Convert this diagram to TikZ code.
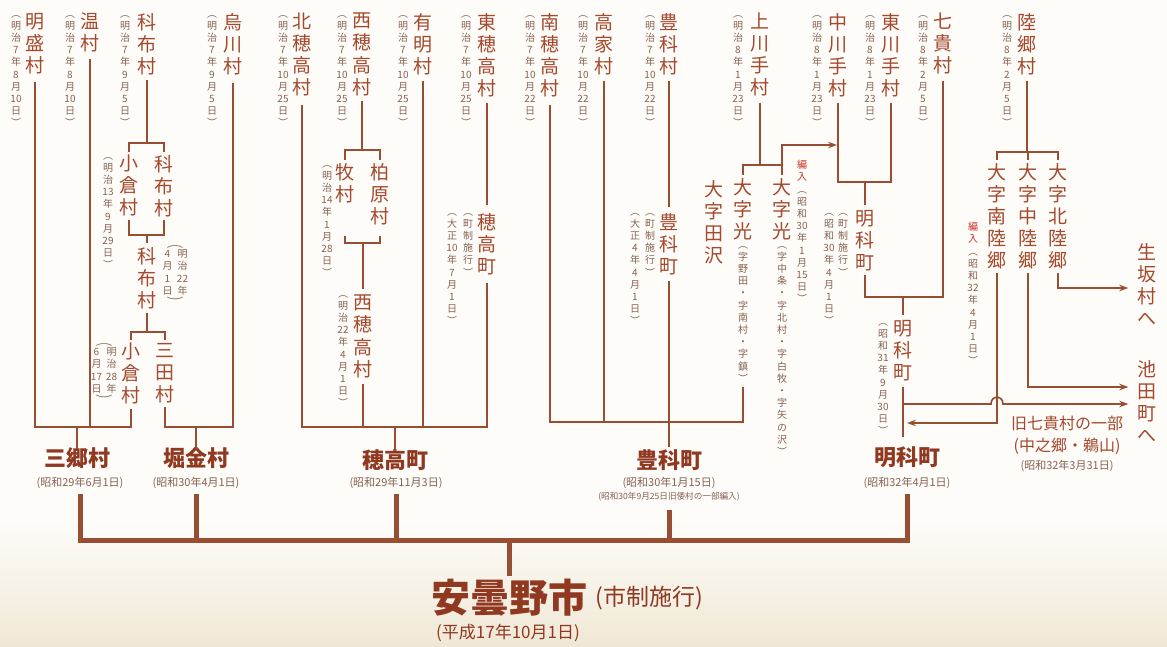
\documentclass[tikz,border=0pt]{standalone}
\usepackage{fontspec}
\setmainfont{Noto Sans CJK JP}
\usepackage{graphicx}
\usetikzlibrary{arrows.meta}
\definecolor{bgC}{RGB}{253,252,249}
\definecolor{beigeC}{RGB}{240,232,214}
\definecolor{nameC}{RGB}{165,72,44}
\definecolor{finC}{RGB}{145,56,32}
\definecolor{dateC}{RGB}{135,98,82}
\definecolor{lineC}{RGB}{152,78,50}
\definecolor{redC}{RGB}{205,50,40}
\ExplSyntaxOn
\NewDocumentCommand \vt { m m }
 {
  \vbox:n
   {
    \skip_set:Nn \baselineskip {#1}
    \dim_set:Nn \lineskiplimit {-100pt}
    \skip_set:Nn \lineskip {0pt}
    \tl_map_inline:nn {#2} { \hbox_to_wd:nn {1em} { \hss ##1 \hss } }
   }
 }
\ExplSyntaxOff
\newcommand\vn[1]{\vt{1.16em}{#1}}
\newcommand\vd[1]{\vt{1.22em}{︵#1︶}}
\newcommand\vdd[2]{\vbox{\offinterlineskip\hbox to 25pt{\hss\scalebox{1.7}[1]{︵}\hss}\kern2pt\hbox to 25pt{\vt{1.22em}{#2}\kern5pt\vt{1.22em}{#1}\hss}\kern2pt\hbox to 25pt{\hss\scalebox{1.7}[1]{︶}\hss}}}
\begin{document}
\begin{tikzpicture}[x=1pt,y=-1pt,
  nm/.style={inner sep=0pt, anchor=north, text=nameC, font=\fontsize{19}{22}\selectfont},
  dt/.style={inner sep=0pt, anchor=north, text=dateC, font=\fontsize{10}{12}\selectfont},
  fin/.style={inner sep=0pt, text=finC, font=\fontsize{22}{24}\selectfont\bfseries},
  fdt/.style={inner sep=0pt, text=dateC, font=\fontsize{11}{12}\selectfont},
  ln/.style={draw=lineC, line width=1.7pt},
  arr/.style={ln, -{Stealth[length=9pt,width=6.5pt]}},
  busln/.style={draw=lineC, line width=5pt}]
\fill[bgC] (0,0) rectangle (1167,646);
\shade[top color=bgC, bottom color=beigeC] (0,520) rectangle (1167,646);
\useasboundingbox (0,0) rectangle (1167,646);
% levels
\coordinate (h1) at (0,427);
\coordinate (h3) at (0,422);
\coordinate (b1) at (0,143);
\coordinate (b2) at (0,235);
\coordinate (b3) at (0,332);
\coordinate (b4) at (0,150);
\coordinate (b5) at (0,243);
\coordinate (b5t) at (0,236);
\coordinate (b6) at (0,165);
\coordinate (a1) at (0,145);
\coordinate (b7) at (0,182);
\coordinate (b8) at (0,297);
\coordinate (b9) at (0,152);
\coordinate (a2) at (0,288);
\coordinate (a3) at (0,387);
\coordinate (a4) at (0,423);
\coordinate (u1) at (0,404);
\coordinate (m437) at (0,437);
\coordinate (bus) at (0,540);
% ===== group 1 =====
\node[nm] (meisei) at (35,13) {\vn{明盛村}};
\node[dt] at (16,15) {\vd{明治7年8月{10}日}};
\node[nm] (nuku) at (90,13) {\vn{温村}};
\node[dt] at (70,15) {\vd{明治7年8月{10}日}};
\node[nm] (shina1) at (147,13) {\vn{科布村}};
\node[dt] at (125,15) {\vd{明治7年9月5日}};
\node[nm] (karasu) at (233,13) {\vn{烏川村}};
\node[dt] at (212,15) {\vd{明治7年9月5日}};
\node[nm] (ogura1) at (129,155) {\vn{小倉村}};
\node[dt] at (108,157) {\vd{明治{13}年9月{29}日}};
\node[nm] (shina2) at (164,155) {\vn{科布村}};
\node[nm] (shina3) at (147,247) {\vn{科布村}};
\node[dt] at (175,245) {\vdd{明治{22}年}{4月1日}};
\node[nm] (ogura2) at (131,343) {\vn{小倉村}};
\node[dt] at (104,343) {\vdd{明治{28}年}{6月{17}日}};
\node[nm] (mita) at (165,343) {\vn{三田村}};
\node[fin] (misato) at (77,458) {三郷村};
\node[fdt] (misatoD) at (80,483) {(昭和29年6月1日)};
\node[fin] (horigane) at (196,458) {堀金村};
\node[fdt] (horiganeD) at (196,483) {(昭和30年4月1日)};
\draw[ln] ([yshift=-8pt]meisei.south) -- (meisei.south |- h1) -- (ogura2.south |- h1) -- ([yshift=-4pt]ogura2.south);
\draw[ln] ([yshift=-6pt]nuku.south) -- (nuku.south |- h1);
\draw[ln] ([yshift=-2pt]misato.north) -- (misato.north |- h1);
\draw[ln] ([yshift=-5pt]shina1.south) -- (shina1.south |- b1);
\draw[ln] ([yshift=3pt]ogura1.north) -- (ogura1.north |- b1) -- (shina2.north |- b1) -- ([yshift=3pt]shina2.north);
\draw[ln] ([yshift=-3pt]ogura1.south) -- (ogura1.south |- b2) -- (shina2.south |- b2) -- ([yshift=-3pt]shina2.south);
\draw[ln] (shina3.north |- b2) -- ([yshift=4pt]shina3.north);
\draw[ln] ([yshift=-4pt]shina3.south) -- (shina3.south |- b3);
\draw[ln] ([yshift=3pt]ogura2.north) -- (ogura2.north |- b3) -- (mita.north |- b3) -- ([yshift=3pt]mita.north);
\draw[ln] ([yshift=-4pt]mita.south) -- (mita.south |- h1) -- (karasu.south |- h1) -- ([yshift=-8pt]karasu.south);
\draw[ln] ([yshift=-2pt]horigane.north) -- (horigane.north |- h1);
% ===== group 2 =====
\node[nm] (kitaho) at (302,13) {\vn{北穂高村}};
\node[dt] at (283,15) {\vd{明治7年{10}月{25}日}};
\node[nm] (nishiho1) at (362,13) {\vn{西穂高村}};
\node[dt] at (342,15) {\vd{明治7年{10}月{25}日}};
\node[nm] (ariake) at (423,13) {\vn{有明村}};
\node[dt] at (403,15) {\vd{明治7年{10}月{25}日}};
\node[nm] (higashiho) at (487,13) {\vn{東穂高村}};
\node[dt] at (466,15) {\vd{明治7年{10}月{25}日}};
\node[nm] (maki) at (345,163) {\vn{牧村}};
\node[dt] at (327,165) {\vd{明治{14}年1月{28}日}};
\node[nm] (kashiwa) at (380,163) {\vn{柏原村}};
\node[nm] (nishiho2) at (363,295) {\vn{西穂高村}};
\node[dt] at (343,295) {\vd{明治{22}年4月1日}};
\node[nm] (hotakaM) at (487,213) {\vn{穂高町}};
\node[dt] at (468,213) {\vd{町制施行}};
\node[dt] at (452,213) {\vd{大正{10}年7月1日}};
\node[fin] (hotaka) at (395,460) {穂高町};
\node[fdt] (hotakaD) at (396,483) {(昭和29年11月3日)};
\draw[ln] ([yshift=-8pt]kitaho.south) -- (kitaho.south |- h1) -- (hotakaM.south |- h1) -- ([yshift=-8pt]hotakaM.south);
\draw[ln] ([yshift=-6pt]ariake.south) -- (ariake.south |- h1);
\draw[ln] ([yshift=-6pt]nishiho2.south) -- (nishiho2.south |- h1);
\draw[ln] ([yshift=-2pt]hotaka.north) -- (hotaka.north |- h1);
\draw[ln] ([yshift=-6pt]higashiho.south) -- ([yshift=8pt]hotakaM.north);
\draw[ln] ([yshift=-5pt]nishiho1.south) -- (nishiho1.south |- b4);
\draw[ln] ([yshift=3pt]maki.north) -- (maki.north |- b4) -- (kashiwa.north |- b4) -- ([yshift=3pt]kashiwa.north);
\draw[ln] (maki.south |- b5t) -- (maki.south |- b5) -- (kashiwa.south |- b5) -- (kashiwa.south |- b5t);
\draw[ln] (nishiho2.north |- b5) -- ([yshift=6pt]nishiho2.north);
% ===== group 3 =====
\node[nm] (minamiho) at (550,13) {\vn{南穂高村}};
\node[dt] at (530,15) {\vd{明治7年{10}月{22}日}};
\node[nm] (takaie) at (604,13) {\vn{高家村}};
\node[dt] at (583,15) {\vd{明治7年{10}月{22}日}};
\node[nm] (toyoV) at (669,13) {\vn{豊科村}};
\node[dt] at (650,15) {\vd{明治7年{10}月{22}日}};
\node[nm] (kamikawa) at (760,13) {\vn{上川手村}};
\node[dt] at (738,15) {\vd{明治8年1月{23}日}};
\node[nm] (toyoM) at (669,213) {\vn{豊科町}};
\node[dt] at (650,213) {\vd{町制施行}};
\node[dt] at (635,213) {\vd{大正4年4月1日}};
\node[nm] (tazawa) at (714,180) {\vn{大字田沢}};
\node[nm] (hikariL) at (743,178) {\vn{大字光}};
\node[dt] (hikariLs) at (743,246) {\vd{字野田・字南村・字鎮}};
\node[nm] (hikariR) at (782,178) {\vn{大字光}};
\node[dt] (hikariRs) at (782,246) {\vd{字中条・字北村・字白牧・字矢の沢}};
\node[dt] at (802,160) {\vt{1.22em}{{\color{redC}編}{\color{redC}入}︵昭和{30}年1月{15}日︶}};
\node[fin] (toyoshina) at (669,460) {豊科町};
\node[fdt] (toyoshinaD) at (669,483) {(昭和30年1月15日)};
\node[fdt, font=\fontsize{8.6}{10}\selectfont] at (669,497) {(昭和30年9月25日旧倭村の一部編入)};
\draw[ln] ([yshift=-8pt]minamiho.south) -- (minamiho.south |- h3) -- (hikariLs.south |- h3) -- ([yshift=-5pt]hikariLs.south);
\draw[ln] ([yshift=-6pt]takaie.south) -- (takaie.south |- h3);
\draw[ln] ([yshift=-6pt]toyoV.south) -- ([yshift=6pt]toyoM.north);
\draw[ln] ([yshift=-6pt]toyoM.south) -- ([yshift=2pt]toyoshina.north);
\draw[ln] ([yshift=-6pt]kamikawa.south) -- (kamikawa.south |- b6);
\draw[ln] ([yshift=3pt]hikariL.north) -- (hikariL.north |- b6) -- (hikariR.north |- b6);
% ===== group 4 =====
\node[nm] (nakagawa) at (838,13) {\vn{中川手村}};
\node[dt] at (817,15) {\vd{明治8年1月{23}日}};
\node[nm] (higashikawa) at (891,13) {\vn{東川手村}};
\node[dt] at (870,15) {\vd{明治8年1月{23}日}};
\node[nm] (nanaki) at (943,13) {\vn{七貴村}};
\node[dt] at (923,15) {\vd{明治8年2月5日}};
\node[nm] (akaM1) at (865,210) {\vn{明科町}};
\node[dt] at (843,213) {\vd{町制施行}};
\node[dt] at (829,213) {\vd{昭和{30}年4月1日}};
\node[nm] (akaM2) at (903,320) {\vn{明科町}};
\node[dt] at (883,323) {\vd{昭和{31}年9月{30}日}};
\node[fin] (akashina) at (907,457) {明科町};
\node[fdt] (akashinaD) at (907,483) {(昭和32年4月1日)};
\draw[arr, shorten >=1pt] ([yshift=3pt]hikariR.north) -- (hikariR.north |- a1) -- (nakagawa.south |- a1);
\draw[ln] ([yshift=-6pt]nakagawa.south) -- (nakagawa.south |- b7) -- (higashikawa.south |- b7) -- ([yshift=-6pt]higashikawa.south);
\draw[ln] (akaM1.north |- b7) -- ([yshift=5pt]akaM1.north);
\draw[ln] ([yshift=-4pt]akaM1.south) -- (akaM1.south |- b8) -- (nanaki.south |- b8) -- ([yshift=-6pt]nanaki.south);
\draw[ln] (akaM2.north |- b8) -- ([yshift=5pt]akaM2.north);
\draw[ln] ([yshift=-6pt]akaM2.south) -- (akaM2.south |- m437);
% ===== group 5 =====
\node[nm] (rikugo) at (1027,13) {\vn{陸郷村}};
\node[dt] at (1007,15) {\vd{明治8年2月5日}};
\node[nm] (minamiR) at (997,163) {\vn{大字南陸郷}};
\node[nm] (nakaR) at (1028,163) {\vn{大字中陸郷}};
\node[nm] (kitaR) at (1058,163) {\vn{大字北陸郷}};
\node[nm] (ikusaka) at (1147,243) {\vn{生坂村へ}};
\node[nm] (ikeda) at (1147,360) {\vn{池田町へ}};
\node[dt] at (973,222) {\vt{1.22em}{{\color{redC}編}{\color{redC}入}︵昭和{32}年4月1日︶}};
\node[inner sep=0pt, text=nameC, font=\fontsize{16}{18}\selectfont] (kyu) at (1067,423) {旧七貴村の一部};
\node[inner sep=0pt, text=nameC, font=\fontsize{16}{18}\selectfont] (kyu2) at (1067,446) {(中之郷・鵜山)};
\node[fdt] at (1067,466) {(昭和32年3月31日)};
\draw[ln] ([yshift=-6pt]rikugo.south) -- (rikugo.south |- b9);
\draw[ln] ([yshift=3pt]minamiR.north) -- (minamiR.north |- b9) -- (kitaR.north |- b9) -- ([yshift=3pt]kitaR.north);
\draw[ln] (nakaR.north |- b9) -- ([yshift=3pt]nakaR.north);
\draw[arr] ([yshift=-4pt]kitaR.south) -- (kitaR.south |- a2) -- ([xshift=-9pt]ikusaka.west |- a2);
\draw[arr] ([yshift=-4pt]nakaR.south) -- (nakaR.south |- a3) -- ([xshift=-9pt]ikeda.west |- a3);
\draw[arr] ([yshift=-4pt]minamiR.south) -- (minamiR.south |- a4) -- ([xshift=4pt]akaM2.south |- a4);
\draw[arr] (akaM2.south |- u1) -- ([xshift=-6pt]minamiR.south |- u1) .. controls +(0,-9) and +(0,-9) .. ([xshift=6pt]minamiR.south |- u1) -- ([xshift=-9pt]ikeda.west |- u1);
% ===== bottom =====
\node[inner sep=0pt, text=finC, font=\fontsize{39}{42}\selectfont\bfseries] (city) at (509,598) {安曇野市};
\node[inner sep=0pt, anchor=west, text=finC, font=\fontsize{23}{25}\selectfont] (cityS) at ([xshift=8pt]city.east) {(市制施行)};
\node[inner sep=0pt, text=finC, font=\fontsize{17}{19}\selectfont] (cityD) at (508,633) {(平成17年10月1日)};
\draw[busln] ([yshift=-5pt]misatoD.south) -- (misatoD.south |- bus);
\draw[busln] ([yshift=-5pt]horiganeD.south) -- (horiganeD.south |- bus);
\draw[busln] ([yshift=-5pt]hotakaD.south) -- (hotakaD.south |- bus);
\draw[busln] (669,510) -- (669,540);
\draw[busln] ([yshift=-5pt]akashinaD.south) -- (akashinaD.south |- bus);
\draw[busln, line cap=rect] (misatoD.south |- bus) -- (akashinaD.south |- bus);
\draw[busln] (city.north |- bus) -- ([yshift=3pt]city.north);
\end{tikzpicture}
\end{document}
